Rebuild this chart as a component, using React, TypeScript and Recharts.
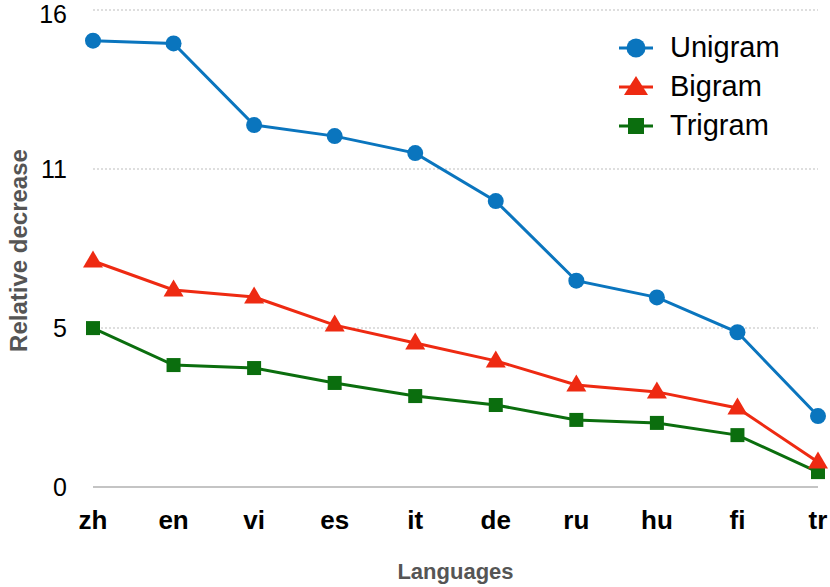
import React from 'react';
import { LineChart, Line, XAxis, YAxis, CartesianGrid, Legend } from 'recharts';

const languages = ['zh', 'en', 'vi', 'es', 'it', 'de', 'ru', 'hu', 'fi', 'tr'];
const unigram = [14.97, 14.88, 12.14, 11.77, 11.2, 9.59, 6.92, 6.36, 5.19, 2.38];
const bigram = [7.58, 6.61, 6.37, 5.43, 4.83, 4.23, 3.42, 3.19, 2.65, 0.84];
const trigram = [5.33, 4.09, 3.99, 3.49, 3.05, 2.75, 2.25, 2.15, 1.74, 0.5];
const yTicks = [0, 16 / 3, 32 / 3, 16];

const BLUE = '#0a75be';
const RED = '#ee2a12';
const GREEN = '#0b6e0e';
const FONT = '"Liberation Sans", Arial, Helvetica, sans-serif';

const data = languages.map((lang, i) => ({
  lang,
  Unigram: unigram[i],
  Bigram: bigram[i],
  Trigram: trigram[i],
}));

const CircleDot = (props: any) => {
  const { cx, cy } = props;
  if (cx == null || cy == null) return null;
  return <circle key={`c${props.index}`} cx={cx} cy={cy} r={8} fill={BLUE} />;
};
const TriDot = (props: any) => {
  const { cx, cy } = props;
  if (cx == null || cy == null) return null;
  const s = 10;
  return (
    <polygon
      key={`t${props.index}`}
      points={`${cx},${cy - s * 1.05} ${cx - s},${cy + s * 0.65} ${cx + s},${cy + s * 0.65}`}
      fill={RED}
    />
  );
};
const SqDot = (props: any) => {
  const { cx, cy } = props;
  if (cx == null || cy == null) return null;
  return <rect key={`s${props.index}`} x={cx - 7} y={cy - 7} width={14} height={14} fill={GREEN} />;
};

const LegendIcon = ({ kind, color }: { kind: string; color: string }) => (
  <svg width={34} height={24} style={{ display: 'block' }}>
    <line x1={0} y1={12} x2={34} y2={12} stroke={color} strokeWidth={3} />
    {kind === 'circle' && <circle cx={17} cy={12} r={9.5} fill={color} />}
    {kind === 'tri' && <polygon points="17,1 5,20 29,20" fill={color} />}
    {kind === 'sq' && <rect x={9} y={4} width={16} height={16} fill={color} />}
  </svg>
);

const legendItems = [
  { name: 'Unigram', kind: 'circle', color: BLUE },
  { name: 'Bigram', kind: 'tri', color: RED },
  { name: 'Trigram', kind: 'sq', color: GREEN },
];

const LegendContent = () => (
  <div style={{ fontFamily: FONT }}>
    {legendItems.map((it) => (
      <div key={it.name} style={{ display: 'flex', alignItems: 'center', height: 39 }}>
        <LegendIcon kind={it.kind} color={it.color} />
        <span style={{ marginLeft: 17, fontSize: 29, color: '#000', lineHeight: '39px' }}>{it.name}</span>
      </div>
    ))}
  </div>
);

const YLabel = (props: any) => {
  const { viewBox } = props;
  const x = viewBox.x + 18;
  const y = viewBox.y + viewBox.height / 2 + 2;
  return (
    <text
      x={x}
      y={y}
      transform={`rotate(-90, ${x}, ${y})`}
      textAnchor="middle"
      dominantBaseline="central"
      style={{ fontFamily: FONT, fontSize: 24, fontWeight: 'bold', fill: '#555' }}
    >
      Relative decrease
    </text>
  );
};

const XLabel = (props: any) => {
  const { viewBox } = props;
  const x = viewBox.x + viewBox.width / 2;
  const y = viewBox.y + viewBox.height - 8;
  return (
    <text
      x={x}
      y={y}
      textAnchor="middle"
      style={{ fontFamily: FONT, fontSize: 22, fontWeight: 'bold', fill: '#555' }}
    >
      Languages
    </text>
  );
};

export default function App() {
  return (
    <div style={{ position: 'absolute', left: 0, top: 0, width: 830, height: 587, background: '#fff' }}>
      <LineChart width={830} height={587} data={data} margin={{ top: 10, right: 12, bottom: 0, left: 0 }}>
        <CartesianGrid vertical={false} stroke="#bdbdbd" strokeDasharray="2 2" strokeWidth={1.2} />
        <XAxis
          dataKey="lang"
          height={100}
          tickLine={false}
          tickSize={0}
          tickMargin={24}
          axisLine={{ stroke: '#c4c4c4', strokeWidth: 2 }}
          tick={{ fontFamily: FONT, fontSize: 26, fontWeight: 'bold', fill: '#000' }}
          interval={0}
          label={<XLabel />}
        />
        <YAxis
          width={93}
          domain={[0, 16]}
          ticks={yTicks}
          tickFormatter={(v: number) => String(Math.round(v))}
          axisLine={false}
          tickLine={false}
          tickSize={0}
          tickMargin={26}
          tick={{ fontFamily: FONT, fontSize: 25, fill: '#000' }}
          label={<YLabel />}
        />
        <Legend
          layout="vertical"
          align="center"
          verticalAlign="middle"
          content={<LegendContent />}
          wrapperStyle={{ top: 28, left: 619, width: 'auto' }}
        />
        <Line type="linear" dataKey="Trigram" stroke={GREEN} strokeWidth={3} dot={<SqDot />} isAnimationActive={false} />
        <Line type="linear" dataKey="Bigram" stroke={RED} strokeWidth={3} dot={<TriDot />} isAnimationActive={false} />
        <Line type="linear" dataKey="Unigram" stroke={BLUE} strokeWidth={3} dot={<CircleDot />} isAnimationActive={false} />
      </LineChart>
    </div>
  );
}
